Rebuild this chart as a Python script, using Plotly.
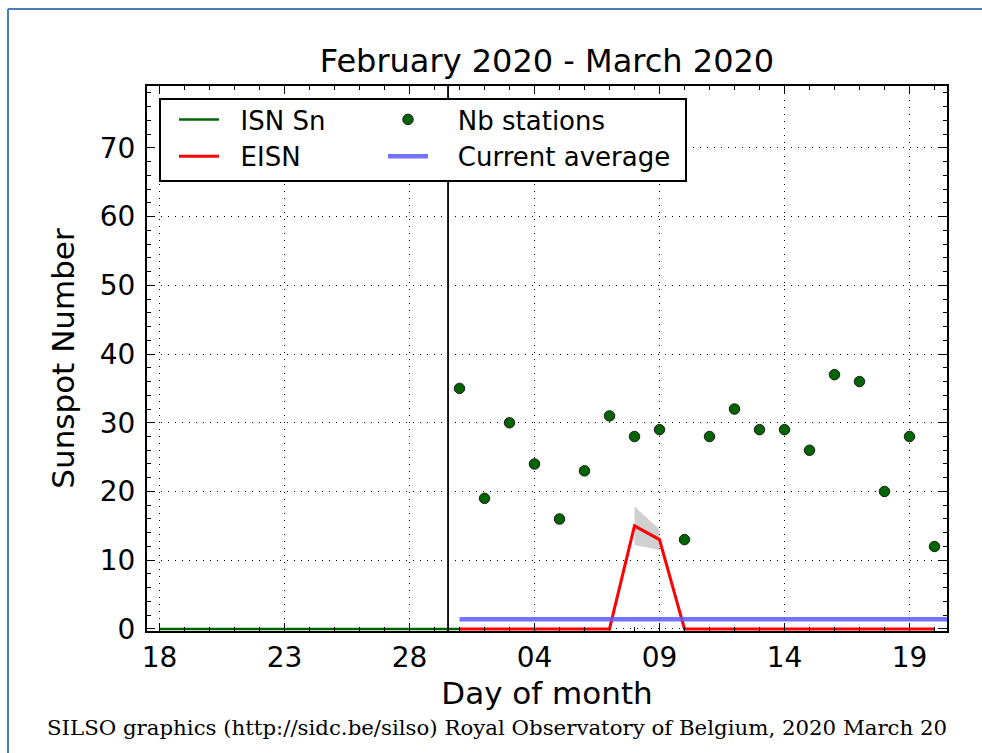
import plotly.graph_objects as go

# ---- data -----------------------------------------------------------------
isn_dates = [f"2020-02-{d:02d}" for d in range(18, 30)] + ["2020-03-01"]
isn_values = [0] * 13

march_dates = [f"2020-03-{d:02d}" for d in range(1, 21)]
eisn_values = [0, 0, 0, 0, 0, 0, 0, 15, 13, 0, 0, 0, 0, 0, 0, 0, 0, 0, 0, 0]
nb_stations = [35, 19, 30, 24, 16, 23, 31, 28, 29, 13,
               28, 32, 29, 29, 26, 37, 36, 20, 28, 12]

band_dates = ["2020-03-08", "2020-03-09"]
band_center = [15, 13]
band_err = [2.8, 1.5]

avg_dates = ["2020-03-01", "2020-03-21"]
current_average = 1.4

month_boundary = "2020-02-29 13:00"

x_range = ["2020-02-17 12:00", "2020-03-20 12:00"]
x_tickvals = ["2020-02-18", "2020-02-23", "2020-02-28", "2020-03-04",
              "2020-03-09", "2020-03-14", "2020-03-19"]
y_range = [-0.3, 79]
y_tickvals = [0, 10, 20, 30, 40, 50, 60, 70]

# ---- figure ---------------------------------------------------------------
W, H = 982, 753
L, R, T, B = 147, 35, 86, 122
PW, PH = W - L - R, H - T - B


def px(x):
    return (x - L) / PW


def py(y):
    return (H - B - y) / PH


FONT = "DejaVu Sans"
PAD = "\u00a0"
fig = go.Figure()

upper = [c + e for c, e in zip(band_center, band_err)]
lower = [c - e for c, e in zip(band_center, band_err)]
fig.add_trace(go.Scatter(x=band_dates, y=upper, mode="lines",
                         line=dict(width=0), showlegend=False, hoverinfo="skip"))
fig.add_trace(go.Scatter(x=band_dates, y=lower, mode="lines", fill="tonexty",
                         fillcolor="rgba(170,170,170,0.55)", line=dict(width=0),
                         showlegend=False, hoverinfo="skip"))

fig.add_trace(go.Scatter(x=isn_dates, y=isn_values, mode="lines",
                         name=PAD * 2 + "ISN Sn", legendrank=1,
                         line=dict(color="#006400", width=2.5), legend="legend"))
fig.add_trace(go.Scatter(x=march_dates, y=eisn_values, mode="lines",
                         name=PAD * 2 + "EISN", legendrank=2,
                         line=dict(color="#ff0000", width=3), legend="legend"))
fig.add_trace(go.Scatter(x=avg_dates, y=[current_average] * len(avg_dates),
                         mode="lines", name=PAD * 3 + "Current average",
                         legendrank=2,
                         line=dict(color="rgba(90,90,255,0.85)", width=4.5),
                         legend="legend2"))
fig.add_trace(go.Scatter(x=march_dates, y=nb_stations, mode="markers",
                         name=PAD * 3 + "Nb stations", legendrank=1,
                         marker=dict(color="#006400", size=10.5,
                                     line=dict(color="#1a1a1a", width=1)),
                         legend="legend2"))

shapes = [
    # month boundary
    dict(type="line", xref="x", yref="paper", x0=month_boundary, x1=month_boundary,
         y0=0, y1=1, line=dict(color="black", width=1.8), layer="above"),
    # legend frame
    dict(type="rect", xref="paper", yref="paper",
         x0=px(160), x1=px(686), y0=py(181), y1=py(99),
         fillcolor="white", line=dict(color="black", width=2), layer="above"),
    # outer page frame
    dict(type="line", xref="paper", yref="paper", x0=px(8), x1=px(W + 5),
         y0=py(9), y1=py(9), line=dict(color="#4a7ebb", width=2)),
    dict(type="line", xref="paper", yref="paper", x0=px(8), x1=px(8),
         y0=py(9), y1=py(H + 5), line=dict(color="#4a7ebb", width=2)),
]

axis_common = dict(
    showline=True, linecolor="black", linewidth=2, mirror="ticks",
    ticks="inside", ticklen=8, tickwidth=1.3, tickcolor="black",
    showgrid=True, gridcolor="black", gridwidth=1, griddash="1px,6px",
    zeroline=False,
    tickfont=dict(family=FONT, size=28, color="black"),
)

fig.update_xaxes(
    type="date", range=x_range, tickvals=x_tickvals, tickformat="%d",
    minor=dict(ticks="inside", ticklen=4, tickwidth=1, tickcolor="black",
               dtick=86400000, tick0="2020-02-18", showgrid=False),
    title=dict(text="Day of month", font=dict(family=FONT, size=31, color="black"),
               standoff=10),
    **axis_common,
)
fig.update_yaxes(
    range=y_range, tickvals=y_tickvals, ticklabelstandoff=4,
    minor=dict(ticks="inside", ticklen=4, tickwidth=1, tickcolor="black",
               dtick=2, tick0=0, showgrid=False),
    title=dict(text="Sunspot Number", font=dict(family=FONT, size=31, color="black"),
               standoff=16),
    **axis_common,
)

legend_common = dict(
    xanchor="left", yanchor="top", bgcolor="rgba(0,0,0,0)", borderwidth=0,
    font=dict(family=FONT, size=26, color="black"), itemwidth=40,
    traceorder="normal", orientation="v",
)

fig.update_layout(
    width=W, height=H,
    margin=dict(l=L, r=R, t=T, b=B),
    paper_bgcolor="white", plot_bgcolor="white",
    title=dict(text="February 2020 - March 2020", x=0.5, xref="paper",
               y=1 - 61 / H, yanchor="middle",
               font=dict(family=FONT, size=32, color="black")),
    shapes=shapes,
    legend=dict(x=px(174), y=py(96), **legend_common),
    legend2=dict(x=px(383), y=py(96), **legend_common),
    annotations=[
        dict(text="SILSO graphics (http://sidc.be/silso) Royal Observatory of Belgium, 2020 March 20",
             xref="paper", yref="paper", x=px(497), y=py(727),
             xanchor="center", yanchor="middle", showarrow=False,
             font=dict(family="DejaVu Serif", size=21.3, color="black")),
    ],
)

fig.write_html("out.html")
